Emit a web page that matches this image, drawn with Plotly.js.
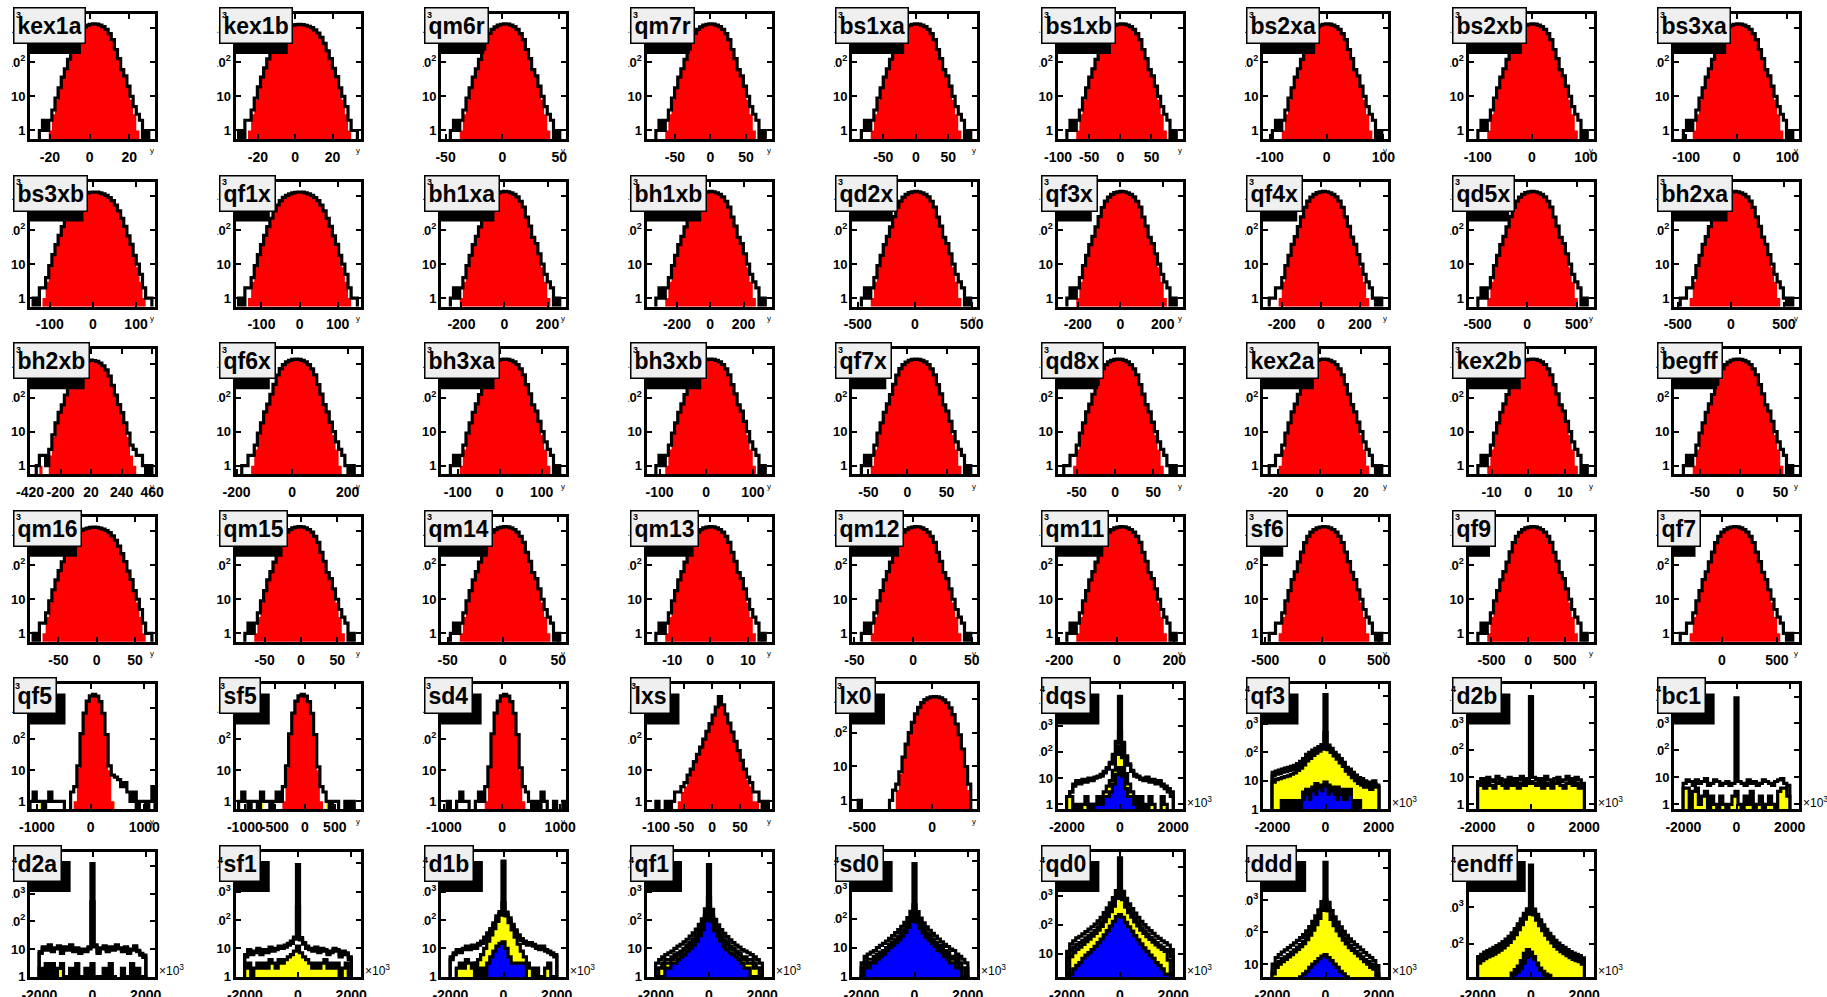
<!DOCTYPE html>
<html><head><meta charset="utf-8">
<script src="https://cdn.plot.ly/plotly-3.0.1.min.js"></script>
<style>html,body{margin:0;padding:0;background:#fff;overflow:hidden}</style>
</head><body><div id="c" style="width:1827px;height:997px"></div>
<script>
// ---------------- panel metadata ----------------
const names = ['kex1a','kex1b','qm6r','qm7r','bs1xa','bs1xb','bs2xa','bs2xb','bs3xa',
 'bs3xb','qf1x','bh1xa','bh1xb','qd2x','qf3x','qf4x','qd5x','bh2xa',
 'bh2xb','qf6x','bh3xa','bh3xb','qf7x','qd8x','kex2a','kex2b','begff',
 'qm16','qm15','qm14','qm13','qm12','qm11','sf6','qf9','qf7',
 'qf5','sf5','sd4','lxs','lx0','dqs','qf3','d2b','bc1',
 'd2a','sf1','d1b','qf1','sd0','qd0','ddd','endff'];
const xLo = [-30,-32,-54,-90,-98,-101,-112,-117,-124,
 -146,-168,-295,-383,-551,-296,-296,-591,-536,
 -420,-204,-140,-128,-71,-75,-27.3,-16.3,-82,
 -87,-90,-56,-16.8,-52,-206,-521,-812,-436,
 -1130,-1156,-1050,-117,-571,-2350,-2350,-2350,-2350,
 -2350,-2350,-2350,-2350,-2350,-2350,-2350,-2350];
const xHi = [33,35,56,86,94,100,108,114,123,
 144,160,286,368,546,293,343,671,643,
 480,246,158,140,89,88,33,17.8,73,
 76,82,57,16.2,54.5,228,582,890,701,
 1200,929,1100,106,321,2350,2350,2350,2350,
 2350,2350,2350,2350,2350,2350,2350,2350];
const xTicks = [[-20,0,20],[-20,0,20],[-50,0,50],[-50,0,50],[-50,0,50],[-100,-50,0,50],[-100,0,100],[-100,0,100],[-100,0,100],
 [-100,0,100],[-100,0,100],[-200,0,200],[-200,0,200],[-500,0,500],[-200,0,200],[-200,0,200],[-500,0,500],[-500,0,500],
 [-420,-200,20,240,460],[-200,0,200],[-100,0,100],[-100,0,100],[-50,0,50],[-50,0,50],[-20,0,20],[-10,0,10],[-50,0,50],
 [-50,0,50],[-50,0,50],[-50,0,50],[-10,0,10],[-50,0,50],[-200,0,200],[-500,0,500],[-500,0,500],[0,500],
 [-1000,0,1000],[-1000,-500,0,500],[-1000,0,1000],[-100,-50,0,50],[-500,0],[-2000,0,2000],[-2000,0,2000],[-2000,0,2000],[-2000,0,2000],
 [-2000,0,2000],[-2000,0,2000],[-2000,0,2000],[-2000,0,2000],[-2000,0,2000],[-2000,0,2000],[-2000,0,2000],[-2000,0,2000]];
// log10 y ranges
const yLo = [-0.25,-0.25,-0.25,-0.25,-0.25,-0.25,-0.25,-0.25,-0.25,
 -0.25,-0.25,-0.25,-0.25,-0.25,-0.25,-0.25,-0.25,-0.25,
 -0.25,-0.25,-0.25,-0.25,-0.25,-0.25,-0.25,-0.25,-0.25,
 -0.25,-0.25,-0.25,-0.25,-0.25,-0.25,-0.25,-0.25,-0.25,
 -0.26,-0.26,-0.26,-0.26,-0.27,-0.19,-0.01,-0.19,-0.19,
 -0.01,-0.01,-0.01,-0.01,-0.01,0.2,0.6,1.1];
const yHi = [3.42,3.42,3.42,3.42,3.42,3.42,3.42,3.42,3.42,
 3.42,3.42,3.42,3.42,3.42,3.42,3.42,3.42,3.42,
 3.42,3.42,3.42,3.42,3.42,3.42,3.42,3.42,3.42,
 3.42,3.42,3.42,3.42,3.42,3.42,3.42,3.42,3.42,
 3.77,3.77,3.77,3.77,3.43,4.57,4.4,4.45,4.45,
 4.5,4.4,4.4,4.4,4.3,4.5,4.5,4.5];
const yTickVals = [1,10,100,1000,10000];
const yTickText = ['1','10','10<sup>2</sup>','10<sup>3</sup>','10<sup>4</sup>'];

// ---------------- histogram bin contents ----------------
const redA = [0,0,0,0,0,0,1,3,8,17, 36,64,122,245,455,705,925,1105,1245,1315, 1350,1325,1235,1115,935,695,465,238,128,60, 39,19,8,3,1,0,0,0,0,0];
const blkA = [0,0,0,1,2,1,2,4,9,18, 37,65,123,246,456,706,926,1106,1246,1316, 1351,1326,1236,1116,936,696,466,239,129,61, 40,20,10,5,3,2,0,1,0,0];
const redB = [0,0,0,0,0, 1,3,8,17,37, 63,124,242,458,702, 928,1108,1242,1318,1350, 1322,1238,1112,932,698, 462,241,126,61,37, 18,8,3,1,0, 0,0,0,0,0];
const blkB = [0,0,1,1,2, 2,4,9,18,38, 64,125,243,459,703, 929,1109,1243,1319,1351, 1323,1239,1113,933,699, 463,242,127,62,38, 19,10,5,3,2, 1,0,1,0,0];
const redC = [0,0,0,0,1, 3,8,18,36,68, 125,220,360,540,730, 900,1040,1150,1230,1280, 1300,1282,1228,1148,1042, 898,728,538,362,218, 127,66,37,17,8, 3,1,0,0,0];
const blkC = [0,1,0,2,2, 4,9,19,37,69, 126,221,361,541,731, 901,1041,1151,1231,1281, 1301,1283,1229,1149,1043, 899,729,539,363,219, 128,67,38,18,10, 5,2,1,1,0];
const redE = [0,0,0,1,0, 0,2,7,17,36, 60,118,225,430,650, 860,1030,1150,1220,1250, 1225,1148,1032,858,652, 428,226,117,61,35, 16,7,2,1,0, 0,0,0,0,0];
const blkE = [0,0,1,2,2, 1,3,8,18,37, 61,119,226,431,651, 861,1031,1151,1221,1251, 1226,1149,1033,859,653, 429,227,118,62,36, 18,9,4,3,2, 2,1,0,1,0];

const redQf5 = [0,0,0,0,0,0,0,0,0,0, 0,0,0,0,1,12,150,700,1700,2500, 2800,2450,1650,680,140,10,1,0,0,0, 0,0,0,0,0,0,0,0,0,0];
const blkQf5 = [1,2,1,1,0,1,2,1,1,1, 1,0,0,2,3,14,152,701,1701,2501, 2801,2451,1651,682,143,14,7,6,5,3, 4,2,1,2,0,1,1,0,1,3];
const yelQf5 = [0,0,0,1,0,0,0,0,0,0, 0,0,0,0,1,0,0,0,0,0, 0,0,0,0,0,0,1,0,0,0, 0,0,0,0,0,0,0,0,0,0];
const redSf5 = [0,0,0,0,0,0,0,0,0,0, 0,0,0,0,0,1,12,150,700,1700, 2500,2800,2450,1650,680,140,10,1,0,0, 0,0,0,0,0,0,0,0,0,0];
const blkSf5 = [0,1,2,1,0,1,1,0,2,1, 1,0,1,2,1,3,14,151,701,1701, 2501,2801,2451,1651,681,142,13,3,2,1, 0,1,1,0,0,1,0,1,0,0];
const yelSf5 = [0,0,0,0,0,0,0,0,1,0, 0,0,0,0,0,0,0,0,0,0, 0,0,0,0,0,0,0,0,0,1, 0,0,0,0,0,0,0,0,0,0];
const blkSd4 = [0,0,1,0,0,1,2,1,1,0, 0,1,2,1,3,13,151,701,1701,2501, 2801,2451,1651,681,141,12,3,2,1,0, 1,0,2,1,0,0,1,0,0,1];
const redLxs = [0,0,0,0,0,0,0,0,0,0, 1,2,3,6,10,18,32,55,100,180, 320,600,1100,2400,1300,650,330,170,85,42, 20,10,5,3,1,1,0,0,0,0];
const blkLxs = [0,0,0,1,0,0,1,0,1,2, 2,3,4,7,11,19,33,56,101,181, 321,601,1101,2401,1301,651,331,171,86,43, 21,11,6,4,2,2,1,0,1,0];
const redLx0 = [0,0,0,0,0,0,0,0,0,0, 0,0,0,0,2,6,18,45,100,200, 360,560,780,950,1080,1150,1180,1150,1075,940, 770,545,340,180,85,32,9,2,0,0];
const blkLx0 = [0,0,1,0,0,0,0,0,0,0, 0,0,1,2,3,7,19,46,101,201, 361,561,781,951,1081,1151,1181,1151,1076,941, 771,546,341,181,86,33,10,3,0,0];

const dqsH1 = [0,0,0,2,3,6,8,7,9,8, 10,9,11,12,14,18,25,40,80,250, 13000, 230,70,35,20,14,12,10,9,11, 8,9,7,8,6,5,4,3,0,0,0];
const dqsH2 = [0,0,0,2,3,5,7,6,8,7, 9,8,10,11,12,16,22,35,70,220, 600, 200,62,31,18,12,11,9,8,10, 7,8,6,7,5,4,3,2,0,0,0];
const dqsH3 = [0,0,0,2,2,0,1,0,1,2, 1,0,1,2,2,3,5,8,20,80, 170, 60,15,6,3,1,2,0,1,0, 2,1,0,0,2,1,0,0,0,0,0];
const dqsH4 = [0,0,0,0,0,0,0,0,0,0, 1,0,1,2,1,2,2,3,6,14, 25, 12,4,2,2,1,0,2,0,0, 0,0,0,0,0,0,0,0,0,0,0];
const qf3H1 = [0,0,0,20,22,24,26,28,30,32, 35,40,48,60,85,100,120,140,160,190, 11000, 180,140,100,80,60,45,30,26,20, 16,13,12,10,9,8,10,7,0,0,0];
const qf3H2 = [0,0,0,15,17,18,20,21,23,25, 27,31,37,47,66,78,95,110,126,150, 500, 145,112,82,64,48,36,24,20,16, 12,10,9,8,7,6,8,6,0,0,0];
const qf3H3 = [0,0,0,9,11,12,13,14,15,17, 19,23,28,36,50,62,78,95,112,130, 135, 125,100,75,58,43,32,22,17,13, 10,8,7,6,6,5,8,6,0,0,0];
const qf3H3b = [0,0,0,0,0,0,2,1,2,1, 2,1,2,4,5,4,6,8,7,6, 9, 7,6,5,6,5,4,5,5,2, 1,2,0,0,0,0,0,0,0,0,0];
const qf3H4 = [0,0,0,0,0,0,1,0,1,0, 1,0,0,2,3,2,4,3,5,4, 6, 3,4,3,2,3,2,2,3,0, 0,1,0,0,0,0,0,0,0,0,0];
const d2bH1 = [0,0,0,7,9,6,10,8,7,11, 9,8,6,10,7,9,8,11,7,9, 10000, 10,8,9,7,11,8,6,9,10, 7,8,11,9,7,10,8,6,0,0,0];
const d2bH3 = [0,0,0,5,6,4,7,5,4,6, 7,5,4,6,5,7,4,6,5,6, 7, 6,5,7,4,6,5,4,6,7, 5,4,6,7,5,6,4,5,0,0,0];
const bc1H1 = [0,0,0,6,8,7,5,8,6,7, 9,5,6,8,7,5,6,7,5,6, 9000, 7,6,5,8,6,7,5,6,8, 7,6,5,7,8,9,6,5,0,0,0];
const bc1H3 = [0,0,0,4,4,0,3,4,1,2, 3,0,2,1,0,2,1,0,1,2, 3, 1,0,2,1,3,0,1,2,0, 1,2,1,0,3,4,4,2,0,0,0];
const d2aH1 = [0,0,0,8,12,10,14,9,11,13, 8,12,10,14,9,11,8,10,9,12, 12000, 14,8,11,13,9,12,10,14,11, 9,12,8,10,13,9,7,6,0,0,0];
const d2aH2 = [0,0,0,7,10,9,12,8,10,11, 7,10,9,12,8,10,7,9,8,10, 500, 12,7,10,11,8,10,9,12,10, 8,10,7,9,11,8,6,5,0,0,0];
const d2aH3 = [0,0,0,2,0,3,1,3,0,2, 3,0,1,2,0,3,1,0,2,0, 3, 0,1,0,2,0,3,1,0,0, 2,0,1,3,0,2,0,1,0,0,0];
const sf1H1 = [0,0,0,6,9,7,8,10,7,9, 8,11,9,10,12,11,13,15,18,25, 9000, 24,16,12,10,9,11,8,10,9, 7,8,10,9,6,8,7,5,0,0,0];
const sf1H2 = [0,0,0,5,8,6,7,9,6,8, 7,9,8,9,10,10,11,13,15,21, 300, 20,14,10,9,8,9,7,9,8, 6,7,9,8,5,7,6,4,0,0,0];
const sf1H3 = [0,0,0,2,3,1,2,3,2,3, 2,4,3,2,4,3,4,5,6,8, 12, 7,5,4,3,2,3,2,3,4, 2,3,2,3,1,2,3,0,0,0,0];
const d1bH1 = [0,0,0,5,7,9,8,10,12,11, 13,12,15,18,25,35,50,80,140,200, 12000, 190,120,70,45,30,22,18,15,16, 14,12,10,12,9,8,7,6,0,0,0];
const d1bH2 = [0,0,0,4,6,8,7,9,10,9, 11,10,13,15,21,29,42,68,120,170, 400, 160,100,58,38,25,19,15,13,14, 12,10,9,10,8,7,6,5,0,0,0];
const d1bH3 = [0,0,0,0,0,2,3,2,4,3, 2,3,4,6,10,18,30,50,90,150, 180, 140,80,45,25,14,8,5,3,2, 1,2,1,0,2,3,1,0,0,0,0];
const d1bH4 = [0,0,0,0,0,0,0,0,0,0, 0,3,0,2,0,3,5,8,12,15, 17, 10,5,3,3,3,3,3,0,0, 0,0,0,0,0,0,0,0,0,0,0];
const qf1H1 = [0,0,0,3,4,5,6,7,8,10, 12,14,17,21,27,35,48,70,110,250, 9000, 240,105,68,46,34,26,20,16,13, 11,9,8,7,6,5,4,3,0,0,0];
const qf1H2 = [0,0,0,2,2,3,4,4,5,6, 7,8,10,13,16,21,29,42,66,150, 600, 144,63,41,28,20,16,12,10,8, 7,5,5,4,4,3,2,2,0,0,0];
const qf1H3 = [0,0,0,1,2,2,3,3,4,5, 6,7,9,11,14,18,25,37,58,130, 300, 125,55,36,24,17,14,10,9,7, 6,4,4,3,3,2,2,1,0,0,0];
const qf1H4 = [0,0,0,0,1,1,2,2,3,3, 4,5,6,8,10,13,18,28,46,95, 180, 90,42,27,18,12,9,7,6,5, 4,3,2,2,1,1,1,0,0,0,0];
const sd0H1 = [0,0,0,3,5,6,7,8,10,12, 14,17,21,26,33,42,55,75,110,180, 8000, 175,105,72,52,40,31,25,20,16, 13,11,9,8,6,5,4,3,0,0,0];
const sd0H2 = [0,0,0,2,3,4,4,5,6,7, 8,10,13,16,20,25,33,45,66,110, 300, 105,63,43,31,24,19,15,12,10, 8,7,5,5,4,3,2,2,0,0,0];
const sd0H3 = [0,0,0,1,2,3,3,4,5,6, 7,9,11,14,17,22,29,40,58,95, 200, 90,55,38,27,21,16,13,10,8, 7,6,4,4,3,2,2,1,0,0,0];
const sd0H4 = [0,0,0,1,2,2,3,3,4,5, 6,8,10,12,15,19,25,34,50,80, 150, 75,47,32,23,18,14,11,8,7, 5,4,3,3,2,2,1,1,0,0,0];
const qd0H1 = [0,0,0,12,22,28,35,40,48,58, 70,85,105,135,180,260,380,560,850,1500, 20000, 1400,800,520,360,250,180,130,100,78, 62,50,40,34,28,24,20,14,0,0,0];
const qd0H2 = [0,0,0,7,13,17,21,24,29,35, 42,51,63,81,108,156,228,336,510,900, 1600, 840,480,312,216,150,108,78,60,47, 37,30,24,20,17,14,12,8,0,0,0];
const qd0H3 = [0,0,0,0,8,11,14,17,21,26, 32,40,50,65,88,128,190,280,430,800, 1300, 720,400,260,180,125,90,65,50,39, 31,25,20,17,14,12,6,0,0,0,0];
const qd0H4 = [0,0,0,0,2,3,4,5,7,9, 11,14,18,24,32,45,62,90,130,190, 220, 180,120,85,60,42,30,22,16,12, 9,7,5,4,3,2,2,0,0,0,0];
const dddH1 = [0,0,0,10,16,20,24,28,33,39, 46,55,67,84,110,150,215,320,500,900, 15000, 850,470,300,205,145,105,80,62,50, 41,34,28,23,19,16,13,9,0,0,0];
const dddH2 = [0,0,0,6,10,12,15,17,20,24, 28,34,41,52,68,93,133,198,310,560, 1000, 530,290,186,127,90,65,50,38,31, 25,21,17,14,12,10,8,5,0,0,0];
const dddH3 = [0,0,0,5,8,10,12,14,17,20, 24,29,35,44,58,80,115,170,270,480, 800, 460,250,160,110,78,56,43,33,27, 22,18,15,12,10,8,7,4,0,0,0];
const dddH4 = [0,0,0,0,0,0,0,1,2,2, 3,3,4,5,6,8,10,12,15,18, 20, 16,13,10,8,6,5,4,3,3, 2,2,1,1,0,0,0,0,0,0,0];
const endH1 = [0,0,0,45,52,60,66,72,80,90, 100,115,135,160,200,260,350,480,680,900, 14000, 880,640,450,330,250,195,155,125,105, 90,80,70,62,56,52,48,42,0,0,0];
const endH2 = [0,0,0,38,44,50,55,60,66,75, 84,96,112,135,168,218,295,405,570,760, 1000, 740,535,378,277,210,163,130,105,88, 75,66,58,52,47,43,40,35,0,0,0];
const endH3 = [0,0,0,30,35,40,44,48,53,60, 68,78,92,110,138,180,245,335,470,640, 880, 620,440,312,228,172,134,107,86,72, 62,54,48,42,38,35,33,28,0,0,0];
const endH3b = [0,0,0,0,0,0,0,0,0,0, 0,0,0,0,16,20,25,35,55,70, 60, 45,30,22,18,15,14,0,0,0, 0,0,0,0,0,0,0,0,0,0,0];
const endH4 = [0,0,0,0,0,0,0,0,0,0, 0,0,0,0,0,14,16,20,28,40, 45, 35,25,18,14,13,0,0,0,0, 0,0,0,0,0,0,0,0,0,0,0];

// which set of histograms each panel shows
const panelSet = ['A','C','A','A','A','A','A','A','A',
 'C','C','A','A','A','A','B','A','B',
 'E','B','A','A','A','B','B','A','A',
 'C','A','A','A','A','A','B','A','B',
 'qf5','sf5','sd4','lxs','lx0','dqs','qf3','d2b','bc1',
 'd2a','sf1','d1b','qf1','sd0','qd0','ddd','endff'];

// ---------------- styling ----------------
const RED='#ff0000', YEL='#ffff00', BLU='#0000ff', BLK='#000000', LW=3.2;
const sets = {
  A:[[redA,RED,0],[blkA,'',LW]], B:[[redB,RED,0],[blkB,'',LW]],
  C:[[redC,RED,0],[blkC,'',LW]], E:[[redE,RED,0],[blkE,'',LW]],
  qf5:[[yelQf5,YEL,0],[redQf5,RED,0],[blkQf5,'',LW]],
  sf5:[[yelSf5,YEL,0],[redSf5,RED,0],[blkSf5,'',LW]],
  sd4:[[redQf5,RED,0],[blkSd4,'',LW]],
  lxs:[[redLxs,RED,0],[blkLxs,'',LW]],
  lx0:[[redLx0,RED,0],[blkLx0,'',LW]],
  dqs:[[dqsH1,'',LW],[dqsH2,'',LW],[dqsH3,YEL,LW],[dqsH4,BLU,LW]],
  qf3:[[qf3H1,'',LW],[qf3H2,'',LW],[qf3H3,YEL,LW],[qf3H3b,BLK,LW],[qf3H4,BLU,1]],
  d2b:[[d2bH1,'',LW],[d2bH3,YEL,LW]],
  bc1:[[bc1H1,'',LW],[bc1H3,YEL,LW]],
  d2a:[[d2aH1,'',LW],[d2aH2,'',LW],[d2aH3,YEL,LW]],
  sf1:[[sf1H1,'',LW],[sf1H2,'',LW],[sf1H3,YEL,LW]],
  d1b:[[d1bH1,'',LW],[d1bH2,'',LW],[d1bH3,YEL,LW],[d1bH4,BLU,LW]],
  qf1:[[qf1H1,'',LW],[qf1H2,'',LW],[qf1H3,YEL,LW],[qf1H4,BLU,LW]],
  sd0:[[sd0H1,'',LW],[sd0H2,'',LW],[sd0H3,YEL,LW],[sd0H4,BLU,LW]],
  qd0:[[qd0H1,'',LW],[qd0H2,'',LW],[qd0H3,YEL,LW],[qd0H4,BLU,LW]],
  ddd:[[dddH1,'',LW],[dddH2,'',LW],[dddH3,YEL,LW],[dddH4,BLU,LW]],
  endff:[[endH1,'',LW],[endH2,'',LW],[endH3,YEL,LW],[endH3b,BLK,LW],[endH4,BLU,1]]
};

const W=1827, H=997;
const FX0=30, FDX=205.5, FW=125, FY0=14, FDY=167.6, FH=125;
const BASE=1e-3;
const FONT='Liberation Sans, Arial, sans-serif';
const TSIZE=23;
const px = x=>x/W, py = y=>1-y/H;

function steps(lo, hi, c){
  const n=c.length, w=(hi-lo)/n, xs=[lo], ys=[BASE];
  for(let i=0;i<n;i++){ const v=c[i]>0?c[i]:BASE; xs.push(lo+i*w, lo+(i+1)*w); ys.push(v,v); }
  xs.push(hi); ys.push(BASE);
  return [xs,ys];
}
const cv=document.createElement('canvas').getContext('2d');
cv.font='bold '+TSIZE+'px "Liberation Sans"';

const layout={width:W,height:H,margin:{l:0,r:0,t:0,b:0},paper_bgcolor:'#fff',plot_bgcolor:'#fff',
  showlegend:false,hovermode:false,shapes:[],annotations:[]};
const traces=[];
const supAnn=[];

names.forEach((nm,i)=>{
  const r=Math.floor(i/9), c=i%9, k=i+1, sfx=(k===1?'':String(k));
  const fl=FX0+c*FDX, ft=FY0+r*FDY;
  const sci = i>=41;
  const tickfont={family:FONT,size:14,weight:'bold',color:'#000'};
  layout['xaxis'+sfx]={domain:[px(fl),px(fl+FW)],range:[xLo[i],xHi[i]],anchor:'y'+sfx,
    tickvals:xTicks[i],ticktext:xTicks[i].map(String),tickangle:0,ticks:'inside',ticklen:5,tickwidth:2,
    tickcolor:'#000',showline:true,linewidth:3,linecolor:'#000',mirror:'ticks',showgrid:false,zeroline:false,
    tickfont:tickfont,ticklabelstandoff:3,ticklabeloverflow:'allow',fixedrange:true};
  layout['yaxis'+sfx]={domain:[py(ft+FH),py(ft)],type:'log',range:[yLo[i],yHi[i]],anchor:'x'+sfx,
    tickvals:yTickVals,ticktext:yTickText,ticks:'inside',ticklen:5,tickwidth:2,tickcolor:'#000',
    showline:true,linewidth:3,linecolor:'#000',mirror:'ticks',showgrid:false,zeroline:false,
    tickfont:{family:FONT,size:13,weight:'bold',color:'#000'},ticklabelstandoff:-1,ticklabeloverflow:'allow',fixedrange:true};
  sets[panelSet[i]].forEach(([cnt,fillc,lw])=>{
    const [xs,ys]=steps(xLo[i],xHi[i],cnt);
    traces.push({type:'scatter',mode:'lines',x:xs,y:ys,xaxis:'x'+sfx,yaxis:'y'+sfx,
      line:{color:lw>0?BLK:'rgba(0,0,0,0)',width:lw>0?lw:0,simplify:false},
      fill:fillc?'toself':'none',fillcolor:fillc||'rgba(0,0,0,0)',hoverinfo:'skip',showlegend:false});
  });
  // pad clipping of the y labels
  const y10 = ft + (yHi[i]-1)/(yHi[i]-yLo[i])*FH;
  const coverBottom = (yLo[i]<1) ? y10-9 : ft+FH;
  layout.shapes.push({type:'rect',xref:'paper',yref:'paper',layer:'above',x0:px(fl-50),x1:px(fl-18),
    y0:py(ft-25),y1:py(coverBottom),fillcolor:'#fff',line:{width:0}});
  // title box + shadow
  const tw=cv.measureText(nm).width;
  const bx0=fl-17, by0=ft-7, bw=tw+2*3+3, bh=28+6+3;
  const shR = (r>=4)? bx0+bw+9 : bx0+bw-5;
  layout.shapes.push({type:'rect',xref:'paper',yref:'paper',layer:'above',x0:px(fl-1),x1:px(shR),
    y0:py(ft+9),y1:py(by0+bh+10),fillcolor:'#000',line:{width:0}});
  layout.annotations.push({xref:'paper',yref:'paper',x:px(bx0),y:py(by0),xanchor:'left',yanchor:'top',
    text:nm,showarrow:false,font:{family:FONT,size:TSIZE,weight:'bold',color:'#000'},
    bgcolor:'#efefef',bordercolor:'#000',borderwidth:1.5,borderpad:3,height:28});
  // exponent of the top y label peeking over the title box
  if(sci){
    supAnn.push({xref:'paper',yref:'paper',x:px(fl-15.5),y:py(ft+(r===5?8:5)),xanchor:'center',yanchor:'middle',
      text:'4',showarrow:false,font:{family:FONT,size:9,weight:'bold',color:'#000'}});
  } else {
    supAnn.push({xref:'paper',yref:'paper',x:px(fl-(r===4?13:11.5)),y:py(ft+(r===4?2:0.5)),xanchor:'center',yanchor:'middle',
      text:'3',showarrow:false,font:{family:FONT,size:9,weight:'bold',color:'#000'}});
  }
  if(sci){
    layout.annotations.push({xref:'paper',yref:'paper',x:px(fl+FW+2),y:py(ft+FH-7),xanchor:'left',yanchor:'middle',
      text:'×10<sup>3</sup>',showarrow:false,font:{family:FONT,size:12,color:'#000'}});
  } else {
    layout.annotations.push({xref:'paper',yref:'paper',x:px(fl+FW-3),y:py(ft+FH+12),xanchor:'center',yanchor:'middle',
      text:'y',showarrow:false,font:{family:FONT,size:8,color:'#000'}});
  }
});
layout.annotations = layout.annotations.concat(supAnn);

Plotly.newPlot('c',traces,layout,{staticPlot:true,displayModeBar:false});
</script>
</body></html>
